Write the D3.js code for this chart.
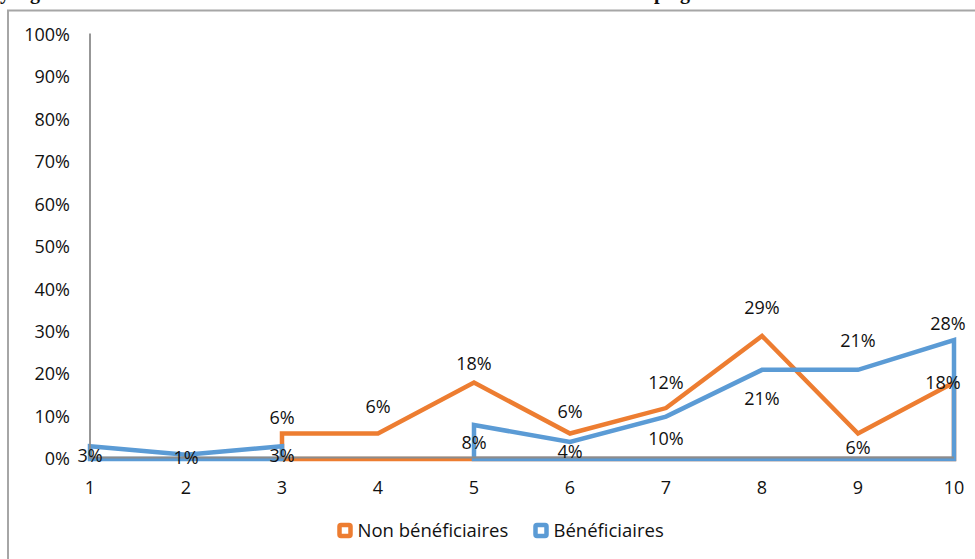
<!DOCTYPE html>
<html>
<head>
<meta charset="utf-8">
<script src="https://cdn.jsdelivr.net/npm/d3@7"></script>
<style>
  html, body { margin: 0; padding: 0; background: #fff; overflow: hidden; }
  svg { display: block; }
  text { font-family: "Open Sans", "Liberation Sans", sans-serif; fill: #111; }
</style>
</head>
<body>
<svg id="chart" width="975" height="559"></svg>
<script>
// Categories on the x axis
const categories = [1, 2, 3, 4, 5, 6, 7, 8, 9, 10];

// Shares per category (null = no value for that category)
const nonBeneficiaires = [null, null, 0.06, 0.06, 0.18, 0.06, 0.12, 0.29, 0.06, 0.18];
const beneficiaires    = [0.03, 0.01, 0.03, null, 0.08, 0.04, 0.10, 0.21, 0.21, 0.28];

// Axis tick values
const yTicks = [0, 0.1, 0.2, 0.3, 0.4, 0.5, 0.6, 0.7, 0.8, 0.9, 1.0];

// Series names
const seriesNames = ["Non bénéficiaires", "Bénéficiaires"];

// Label placement (vertical / horizontal nudge from each point, in px)
const nonBenefLabelDy = [0, 0, -16, -27, -19, -22, -25, -28, 14, 0];
const nonBenefLabelDx = [0, 0, 0, 0, 0, 0, 0, 0, 0, -11];
const benefLabelDy    = [9, 3, 9, 0, 18, 10, 22, 29, -29, -16];
const benefLabelDx    = [0, 0, 0, 0, 0, 0, 0, 0, 0, -6];

const colors = { orange: "#ED7D31", blue: "#5B9BD5", axis: "#8c8c8c", frame: "#a6a6a6" };

const svg = d3.select("#chart");

// Title line running off the top edge
svg.append("text").attr("x", 0).attr("y", -1)
  .style("font-family", "'Liberation Serif', serif").style("font-weight", "bold")
  .style("font-size", "20px").attr("xml:space", "preserve").text("y    g");
svg.append("text").attr("x", 654).attr("y", -1)
  .style("font-family", "'Liberation Serif', serif").style("font-weight", "bold")
  .style("font-size", "20px").attr("xml:space", "preserve").text("p   g");

// Chart frame
svg.append("rect").attr("x", 8).attr("y", 10.5).attr("width", 1100).attr("height", 700)
  .attr("fill", "none").attr("stroke", colors.frame).attr("stroke-width", 2);

const x = d3.scaleLinear().domain([1, 10]).range([90, 954]);
const y = d3.scaleLinear().domain([0, 1]).range([459, 34.5]);

// Y tick labels
svg.append("g").selectAll("text").data(yTicks).join("text")
  .attr("x", 70).attr("y", d => y(d)).attr("dy", "0.35em")
  .attr("text-anchor", "end").style("font-size", "18px")
  .text(d3.format(".0%"));

// X tick labels
svg.append("g").selectAll("text").data(categories).join("text")
  .attr("x", d => x(d)).attr("y", 494).attr("text-anchor", "middle")
  .style("font-size", "18px").text(d => d);

// Series outlines: each defined run is drawn as a closed outline down to 0
function seriesData(values) {
  return categories.map((c, i) => ({ c, v: values[i] }));
}
const outline = d3.area()
  .defined(d => d.v != null)
  .x(d => x(d.c))
  .y0(y(0))
  .y1(d => y(d.v));

const series = [
  { values: nonBeneficiaires, color: colors.orange, dy: nonBenefLabelDy, dx: nonBenefLabelDx },
  { values: beneficiaires, color: colors.blue, dy: benefLabelDy, dx: benefLabelDx }
];

series.forEach(s => {
  svg.append("path").datum(seriesData(s.values))
    .attr("d", outline)
    .attr("fill", "none")
    .attr("stroke", s.color)
    .attr("stroke-width", 4.5)
    .attr("stroke-linejoin", "miter");
});

// Axes lines
svg.append("line").attr("x1", x(1)).attr("x2", x(10)).attr("y1", y(0) - 1.5).attr("y2", y(0) - 1.5)
  .attr("stroke", colors.axis).attr("stroke-width", 1.8);
svg.append("line").attr("x1", x(1)).attr("x2", x(1)).attr("y1", y(1) - 1).attr("y2", y(0))
  .attr("stroke", colors.axis).attr("stroke-width", 1.8);

// Data labels
series.forEach(s => {
  svg.append("g").selectAll("text")
    .data(seriesData(s.values).map((d, i) => ({ ...d, i })).filter(d => d.v != null))
    .join("text")
    .attr("x", d => x(d.c) + s.dx[d.i])
    .attr("y", d => y(d.v) + s.dy[d.i])
    .attr("dy", "0.35em")
    .attr("text-anchor", "middle")
    .style("font-size", "18px")
    .text(d => d3.format(".0%")(d.v));
});

// Legend
const legendItems = [
  { name: seriesNames[0], color: colors.orange, x: 339.5 },
  { name: seriesNames[1], color: colors.blue, x: 535.5 }
];
const lg = svg.append("g");
legendItems.forEach(it => {
  lg.append("rect").attr("x", it.x).attr("y", 525).attr("width", 11).attr("height", 11)
    .attr("rx", 1.5).attr("fill", "#fff").attr("stroke", it.color).attr("stroke-width", 4.5);
  lg.append("text").attr("x", it.x + 18).attr("y", 530.5).attr("dy", "0.35em")
    .style("font-size", "18.5px").text(it.name);
});
</script>
</body>
</html>
